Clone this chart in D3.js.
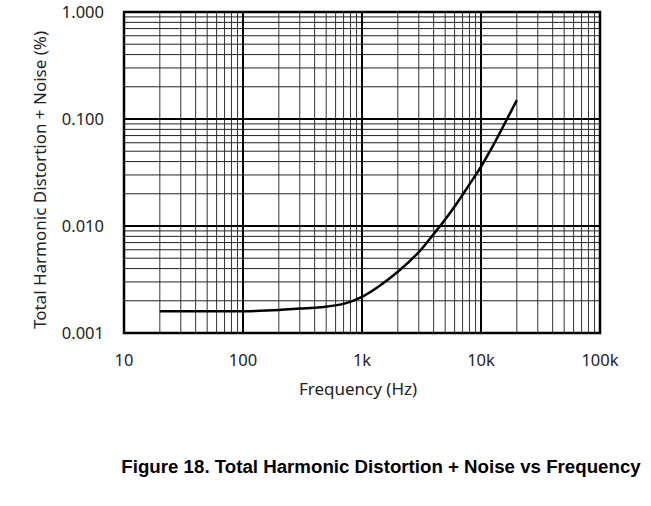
<!DOCTYPE html>
<html><head><meta charset="utf-8">
<script src="https://cdn.jsdelivr.net/npm/d3@7"></script>
<style>body{margin:0;background:#fff}svg{display:block}</style>
</head><body>
<svg id="c" width="651" height="506"></svg>
<script>
const freq = [20, 50, 100, 200, 300, 450, 700, 1000, 1400, 2000, 3000, 4000, 5000, 6000, 8000, 10000, 12000, 14000, 16000, 20000];
const thdn = [0.0016, 0.0016, 0.0016, 0.00164, 0.00169, 0.00174, 0.00187, 0.00218, 0.00275, 0.00373, 0.0057, 0.0084, 0.0115, 0.0152, 0.0245, 0.0358, 0.051, 0.07, 0.093, 0.15];
const xTickValues = [10, 100, 1000, 10000, 100000];
const xTickLabels = ["10", "100", "1k", "10k", "100k"];
const yTickValues = [0.001, 0.01, 0.1, 1];
const yTickLabels = ["0.001", "0.010", "0.100", "1.000"];
const xTitle = "Frequency (Hz)";
const yTitle = "Total Harmonic Distortion + Noise (%)";
const caption = "Figure 18. Total Harmonic Distortion + Noise vs Frequency";

const svg = d3.select("#c");
const L = 124, R = 600, T = 12, B = 333;
const x = d3.scaleLog().domain([10, 100000]).range([L, R]);
const y = d3.scaleLog().domain([0.001, 1]).range([B, T]);
const font = "'Noto Sans', 'Open Sans', sans-serif";

// minor grid
const minorX = [], minorY = [];
for (let d = 10; d < 100000; d *= 10) for (let m = 2; m <= 9; m++) minorX.push(d * m);
for (let d = 0.001; d < 0.999; d *= 10) for (let m = 2; m <= 9; m++) minorY.push(d * m);
const g = svg.append("g");
g.selectAll(".mx").data(minorX).enter().append("line")
  .attr("x1", d => x(d)).attr("x2", d => x(d)).attr("y1", T).attr("y2", B)
  .attr("stroke", "#333").attr("stroke-width", 1);
g.selectAll(".my").data(minorY).enter().append("line")
  .attr("y1", d => y(d)).attr("y2", d => y(d)).attr("x1", L).attr("x2", R)
  .attr("stroke", "#222").attr("stroke-width", 1);
// major grid
g.selectAll(".Mx").data(xTickValues).enter().append("line")
  .attr("x1", d => x(d)).attr("x2", d => x(d)).attr("y1", T).attr("y2", B)
  .attr("stroke", "#000").attr("stroke-width", 2);
g.selectAll(".My").data(yTickValues).enter().append("line")
  .attr("y1", d => y(d)).attr("y2", d => y(d)).attr("x1", L).attr("x2", R)
  .attr("stroke", "#000").attr("stroke-width", 2);
// border
svg.append("rect").attr("x", L).attr("y", T).attr("width", R - L).attr("height", B - T)
  .attr("fill", "none").attr("stroke", "#000").attr("stroke-width", 2.5);

// curve
const line = d3.line().x((d, i) => x(freq[i])).y((d, i) => y(thdn[i])).curve(d3.curveCatmullRom.alpha(0.5));
svg.append("path").datum(thdn).attr("d", line).attr("fill", "none")
  .attr("stroke", "#000").attr("stroke-width", 2.5).attr("stroke-linejoin", "round");

// tick labels
svg.selectAll(".xl").data(xTickValues).enter().append("text")
  .attr("x", d => x(d)).attr("y", 366).attr("text-anchor", "middle")
  .attr("font-family", font).attr("font-size", 16.5).attr("fill", "#222")
  .text((d, i) => xTickLabels[i]);
svg.selectAll(".yl").data(yTickValues).enter().append("text")
  .attr("x", 104).attr("y", d => y(d) + 6).attr("text-anchor", "end")
  .attr("font-family", font).attr("font-size", 16.5).attr("fill", "#222")
  .text((d, i) => yTickLabels[i]);

svg.append("text").attr("x", 358).attr("y", 395).attr("text-anchor", "middle")
  .attr("font-family", font).attr("font-size", 17).attr("fill", "#222").text(xTitle);
svg.append("text").attr("transform", "translate(46,180) rotate(-90)").attr("text-anchor", "middle")
  .attr("font-family", font).attr("font-size", 17).attr("fill", "#222").text(yTitle);
svg.append("text").attr("x", 381).attr("y", 473).attr("text-anchor", "middle")
  .attr("font-family", "'Liberation Sans', Arial, sans-serif").attr("font-weight", "bold")
  .attr("font-size", 18.7).attr("fill", "#000").text(caption);
</script>
</body></html>
